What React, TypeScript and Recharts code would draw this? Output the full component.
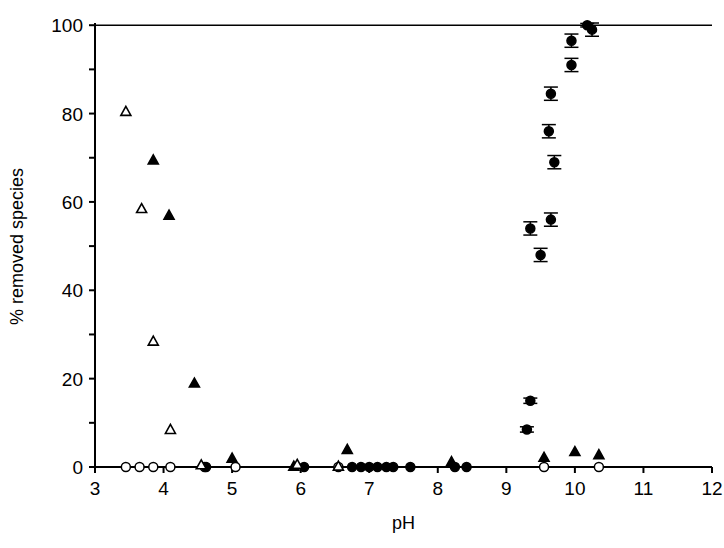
import React from 'react';
import { ScatterChart, Scatter, XAxis, YAxis, ErrorBar, ReferenceLine } from 'recharts';

const openTri = [
  { x: 3.45, y: 80.5 }, { x: 3.68, y: 58.5 }, { x: 3.85, y: 28.5 }, { x: 4.1, y: 8.5 },
  { x: 4.55, y: 0.5 }, { x: 5.95, y: 0.6 }, { x: 6.55, y: 0.2 },
];
const filledTri = [
  { x: 3.85, y: 69.5 }, { x: 4.08, y: 57 }, { x: 4.45, y: 19 }, { x: 5.0, y: 2 },
  { x: 5.9, y: 0.2 }, { x: 6.68, y: 4 }, { x: 8.2, y: 1.2 }, { x: 9.55, y: 2.2 },
  { x: 10.0, y: 3.5 }, { x: 10.35, y: 2.8 },
];
const openCircle = [3.45, 3.65, 3.85, 4.1, 4.6, 5.05, 6.55, 9.55, 10.35].map((x) => ({ x, y: 0 }));
const filledCircle = [
  { x: 4.62, y: 0, e: 0 }, { x: 6.05, y: 0, e: 0 }, { x: 6.75, y: 0, e: 0 }, { x: 6.88, y: 0, e: 0 },
  { x: 7.0, y: 0, e: 0 }, { x: 7.12, y: 0, e: 0 }, { x: 7.25, y: 0, e: 0 }, { x: 7.35, y: 0, e: 0 },
  { x: 7.6, y: 0, e: 0 }, { x: 8.25, y: 0, e: 0 }, { x: 8.42, y: 0, e: 0 },
  { x: 9.3, y: 8.5, e: 0.6 }, { x: 9.35, y: 15, e: 0.6 }, { x: 9.5, y: 48, e: 1.5 },
  { x: 9.35, y: 54, e: 1.5 }, { x: 9.65, y: 56, e: 1.5 }, { x: 9.7, y: 69, e: 1.5 },
  { x: 9.62, y: 76, e: 1.5 }, { x: 9.65, y: 84.5, e: 1.5 }, { x: 9.95, y: 91, e: 1.5 },
  { x: 9.95, y: 96.5, e: 1.5 }, { x: 10.18, y: 100, e: 0.4 }, { x: 10.25, y: 99, e: 1.5 },
];
const xTicks = [3, 4, 5, 6, 7, 8, 9, 10, 11, 12];
const yTicks = [0, 10, 20, 30, 40, 50, 60, 70, 80, 90, 100];

const Tri = (filled: boolean) => (p: any) => {
  const { cx, cy } = p;
  return (
    <polygon
      points={`${cx},${cy - 5} ${cx - 5},${cy + 4} ${cx + 5},${cy + 4}`}
      fill={filled ? '#000' : '#fff'}
      stroke="#000"
      strokeWidth={1.6}
    />
  );
};
const Circ = (filled: boolean) => (p: any) => (
  <circle cx={p.cx} cy={p.cy} r={4.5} fill={filled ? '#000' : '#fff'} stroke="#000" strokeWidth={1.5} />
);

const font = 'Arial, "Liberation Sans", sans-serif';

const XTick = (p: any) => (
  <text x={p.x} y={p.y + 20} textAnchor="middle" fill="#000" fontSize={19} fontFamily={font}>
    {p.payload.value}
  </text>
);
const YTick = (p: any) =>
  p.payload.value % 20 === 0 ? (
    <text x={p.x - 4} y={p.y + 7} textAnchor="end" fill="#000" fontSize={19} fontFamily={font}>
      {p.payload.value}
    </text>
  ) : null;

export default function App() {
  return (
    <div style={{ position: 'fixed', left: 0, top: 0, width: 724, height: 548, background: '#fff' }}>
      <style>{'html,body{overflow:hidden}'}</style>
      <ScatterChart width={724} height={548} margin={{ top: 23, right: 12, left: 35, bottom: 41 }} style={{ overflow: 'visible' }}>
        <XAxis
          type="number" dataKey="x" domain={[3, 12]} ticks={xTicks}
          stroke="#000" strokeWidth={2} tickSize={6} tick={XTick}
          label={{ value: 'pH', position: 'insideBottom', offset: -22, fill: '#000', fontSize: 18, fontFamily: font }}
          height={40}
        />
        <YAxis
          type="number" dataKey="y" domain={[0, 100]} ticks={yTicks} width={60}
          stroke="#000" strokeWidth={2} tickSize={6} tick={YTick}
          label={{ value: '% removed species', angle: -90, position: 'insideLeft', offset: -18, dy: 80, fill: '#000', fontSize: 18, fontFamily: font }}
        />
        <ReferenceLine y={100} stroke="#000" strokeWidth={1.5} />
        <Scatter data={openCircle} shape={Circ(false)} isAnimationActive={false} />
        <Scatter data={filledCircle} shape={Circ(true)} isAnimationActive={false}>
          <ErrorBar dataKey="e" direction="y" width={7} stroke="#000" strokeWidth={1.5} />
        </Scatter>
        <Scatter data={filledTri} shape={Tri(true)} isAnimationActive={false} />
        <Scatter data={openTri} shape={Tri(false)} isAnimationActive={false} />
      </ScatterChart>
    </div>
  );
}
